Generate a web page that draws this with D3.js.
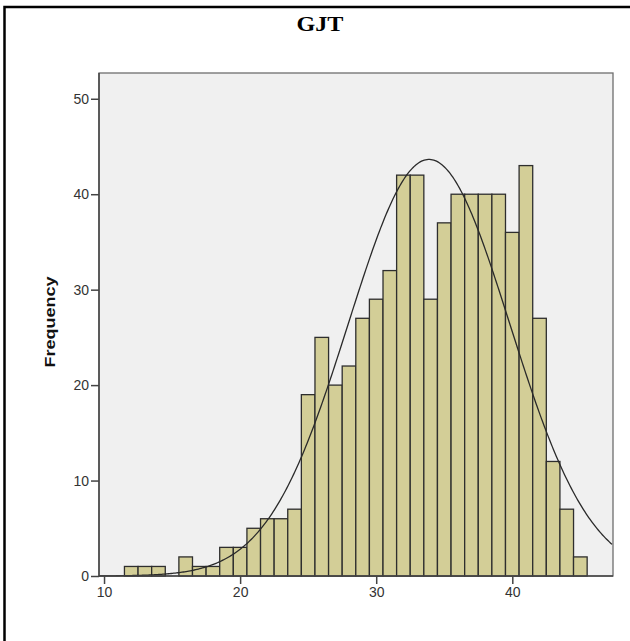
<!DOCTYPE html>
<html>
<head>
<meta charset="utf-8">
<script src="https://cdn.jsdelivr.net/npm/d3@7"></script>
<style>
  body { margin: 0; background: #fff; }
</style>
</head>
<body>
<div id="chart"></div>
<script>
// GJT score histogram (bins of width 1, centred on integers)
var scores = [12, 13, 14, 15, 16, 17, 18, 19, 20, 21, 22, 23, 24, 25, 26, 27, 28, 29,
  30, 31, 32, 33, 34, 35, 36, 37, 38, 39, 40, 41, 42, 43, 44, 45];
var counts = [1, 1, 1, 0, 2, 1, 1, 3, 3, 5, 6, 6, 7, 19, 25, 20, 22, 27,
  29, 32, 42, 42, 29, 37, 40, 40, 40, 40, 36, 43, 27, 12, 7, 2];
var xTicks = [10, 20, 30, 40];
var yTicks = [0, 10, 20, 30, 40, 50];

var width = 630,
  height = 641;

var svg = d3.select("#chart")
  .append("svg")
  .attr("width", width)
  .attr("height", height);

// outer frame (only left and top edges are visible)
svg.append("rect")
  .attr("x", 4.5)
  .attr("y", 7)
  .attr("width", 700)
  .attr("height", 700)
  .attr("fill", "none")
  .attr("stroke", "#000")
  .attr("stroke-width", 2.5);

svg.append("text")
  .attr("x", 320)
  .attr("y", 31)
  .attr("text-anchor", "middle")
  .attr("textLength", 47)
  .attr("lengthAdjust", "spacingAndGlyphs")
  .style("font-family", '"Liberation Serif", "Times New Roman", serif')
  .style("font-weight", "bold")
  .style("font-size", "20px")
  .text("GJT");

var plotLeft = 99, plotRight = 613, plotTop = 73, plotBottom = 576;

var x = d3.scaleLinear().domain([9.63, 47.4]).range([plotLeft, plotRight]);
var y = d3.scaleLinear().domain([0, 52.7]).range([plotBottom, plotTop]);

svg.append("rect")
  .attr("x", plotLeft)
  .attr("y", plotTop)
  .attr("width", plotRight - plotLeft)
  .attr("height", plotBottom - plotTop)
  .attr("fill", "#f0f0f0")
  .attr("stroke", "#6e6e6e")
  .attr("stroke-width", 1.3);

var bins = scores.map(function (s, i) { return { score: s, count: counts[i] }; })
  .filter(function (d) { return d.count > 0; });

svg.selectAll(".bar")
  .data(bins)
  .enter().append("rect")
  .attr("class", "bar")
  .attr("x", function (d) { return x(d.score - 0.5); })
  .attr("y", function (d) { return y(d.count); })
  .attr("width", function (d) { return x(d.score + 0.5) - x(d.score - 0.5); })
  .attr("height", function (d) { return y(0) - y(d.count); })
  .attr("fill", "#d3ce97")
  .attr("stroke", "#2e2e2e")
  .attr("stroke-width", 1.3);

// normal curve from the data's mean and sd
var n = d3.sum(counts);
var mean = d3.sum(scores, function (s, i) { return s * counts[i]; }) / n;
var sd = Math.sqrt(d3.sum(scores, function (s, i) {
  return counts[i] * (s - mean) * (s - mean);
}) / (n - 1));

var curveX = d3.range(x.domain()[0], x.domain()[1] + 0.001, 0.1);
var line = d3.line()
  .x(function (d) { return x(d); })
  .y(function (d) {
    return y(n / (sd * Math.sqrt(2 * Math.PI)) * Math.exp(-0.5 * Math.pow((d - mean) / sd, 2)));
  });

svg.append("path")
  .datum(curveX)
  .attr("d", line)
  .attr("fill", "none")
  .attr("stroke", "#2a2a2a")
  .attr("stroke-width", 1.3);

// axes
var yAxis = svg.append("g")
  .attr("transform", "translate(" + plotLeft + ",0)")
  .call(d3.axisLeft(y).tickValues(yTicks).tickSize(8).tickPadding(2));

var xAxis = svg.append("g")
  .attr("transform", "translate(0," + plotBottom + ")")
  .call(d3.axisBottom(x).tickValues(xTicks).tickSize(8).tickPadding(3));

[yAxis, xAxis].forEach(function (g) {
  g.attr("font-size", null).attr("font-family", null);
  g.select(".domain").remove();
  g.selectAll(".tick line").attr("stroke", "#444").attr("stroke-width", 1.5);
  g.selectAll(".tick text")
    .attr("fill", "#333")
    .attr("font-family", '"Liberation Sans", Arial, sans-serif')
    .attr("font-size", 14);
});

// darker left and bottom axis lines
svg.append("line")
  .attr("x1", plotLeft).attr("x2", plotLeft)
  .attr("y1", plotTop).attr("y2", plotBottom)
  .attr("stroke", "#444").attr("stroke-width", 1.5);
svg.append("line")
  .attr("x1", plotLeft).attr("x2", plotRight)
  .attr("y1", plotBottom).attr("y2", plotBottom)
  .attr("stroke", "#444").attr("stroke-width", 1.5);

svg.append("text")
  .attr("transform", "translate(55,322) rotate(-90)")
  .attr("text-anchor", "middle")
  .attr("textLength", 91)
  .attr("lengthAdjust", "spacingAndGlyphs")
  .style("font-family", '"Liberation Sans", Arial, sans-serif')
  .style("font-weight", "bold")
  .style("font-size", "15px")
  .attr("fill", "#111")
  .text("Frequency");
</script>
</body>
</html>
